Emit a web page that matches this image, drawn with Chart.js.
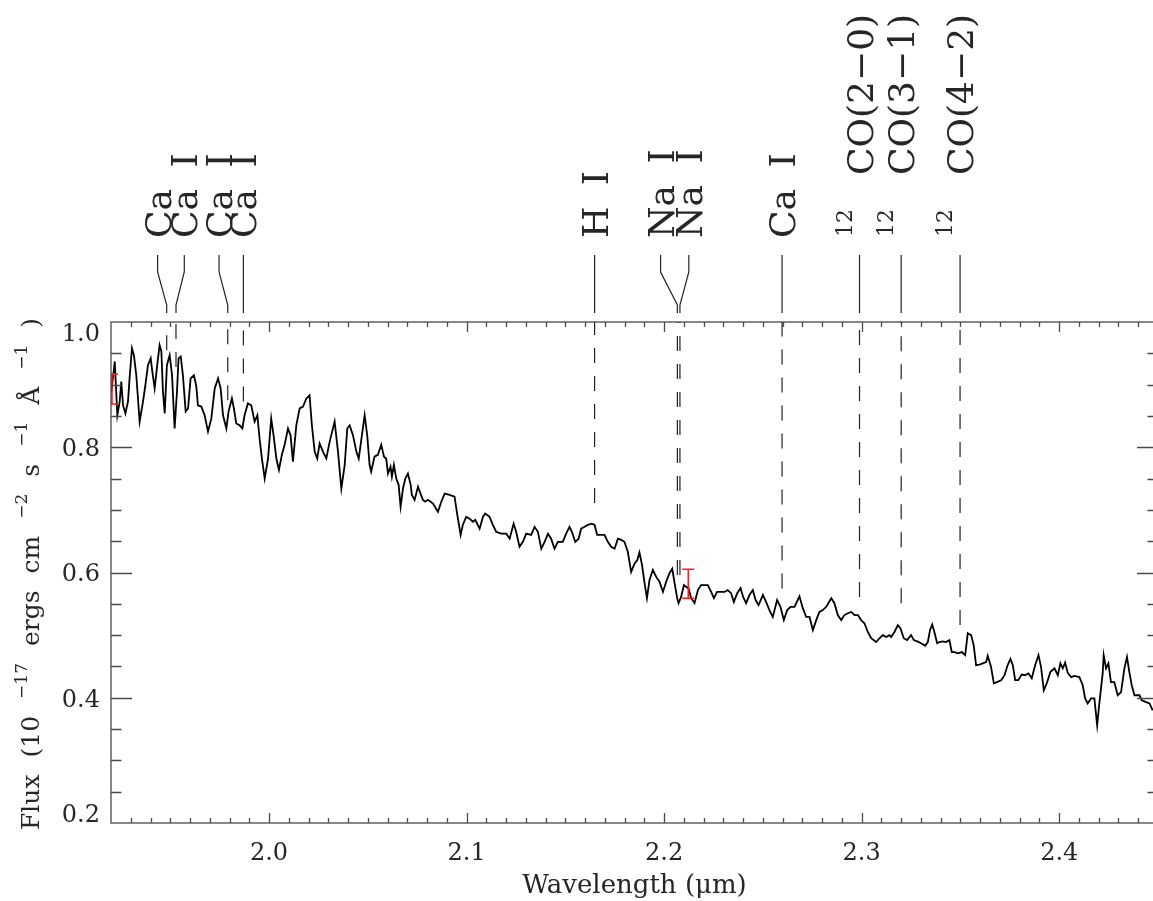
<!DOCTYPE html>
<html>
<head>
<meta charset="utf-8">
<script src="https://cdn.jsdelivr.net/npm/chart.js@4"></script>
<style>
  html, body { margin: 0; padding: 0; background: #fff; overflow: hidden; }
  #wrap { width: 1160px; height: 901px; }
</style>
</head>
<body>
<div id="wrap"><canvas id="chart"></canvas></div>
<script>
// K-band spectrum, wavelength in micron, flux in 1e-17 erg/cm2/s/A
const wavelength = [
  1.9202, 1.9219, 1.9232, 1.9244, 1.9252, 1.9261, 1.9273, 1.9286, 1.9294, 1.9306,
  1.9316, 1.9328, 1.9345, 1.9362, 1.9374, 1.9387, 1.9401, 1.9409, 1.9421, 1.9434,
  1.9446, 1.9455, 1.9463, 1.9472, 1.9483, 1.9497, 1.9509, 1.9522, 1.9534, 1.9542,
  1.9553, 1.9564, 1.9578, 1.9590, 1.9603, 1.9620, 1.9632, 1.9640, 1.9657, 1.9674,
  1.9691, 1.9708, 1.9725, 1.9742, 1.9755, 1.9767, 1.9784, 1.9795, 1.9812, 1.9822,
  1.9834, 1.9851, 1.9865, 1.9876, 1.9893, 1.9910, 1.9927, 1.9941, 1.9952, 1.9964,
  1.9978, 1.9995, 2.0011, 2.0023, 2.0037, 2.0050, 2.0065, 2.0079, 2.0096, 2.0109,
  2.0121, 2.0138, 2.0155, 2.0172, 2.0189, 2.0205, 2.0217, 2.0231, 2.0244, 2.0256,
  2.0273, 2.0290, 2.0307, 2.0332, 2.0349, 2.0366, 2.0383, 2.0396, 2.0408, 2.0425,
  2.0442, 2.0454, 2.0470, 2.0484, 2.0497, 2.0509,
  2.0517, 2.0534, 2.0551, 2.0568, 2.0582, 2.0593, 2.0602, 2.0615, 2.0622, 2.0632,
  2.0644, 2.0656, 2.0666, 2.0678, 2.0690, 2.0703, 2.0717, 2.0723, 2.0737, 2.0754,
  2.0767, 2.0779, 2.0791, 2.0804, 2.0818, 2.0830, 2.0855, 2.0872, 2.0889, 2.0914,
  2.0939, 2.0953, 2.0970, 2.0981, 2.0998, 2.1015, 2.1032, 2.1044, 2.1066, 2.1083,
  2.1094, 2.1116, 2.1133, 2.1150, 2.1175, 2.1201, 2.1218, 2.1238, 2.1251, 2.1268,
  2.1285, 2.1302, 2.1327, 2.1344, 2.1361, 2.1378, 2.1395, 2.1412, 2.1428, 2.1445,
  2.1462, 2.1487, 2.1504, 2.1521, 2.1533, 2.1550, 2.1567, 2.1580, 2.1597, 2.1614,
  2.1634, 2.1648, 2.1661, 2.1681, 2.1698, 2.1715, 2.1732, 2.1749, 2.1766, 2.1783,
  2.1799, 2.1816,
  2.1833, 2.1850, 2.1864, 2.1875, 2.1887, 2.1901, 2.1913, 2.1926, 2.1943, 2.1960,
  2.1977, 2.1994, 2.2010, 2.2027, 2.2041, 2.2053, 2.2066, 2.2073, 2.2086, 2.2100,
  2.2112, 2.2123, 2.2137, 2.2154, 2.2171, 2.2187, 2.2204, 2.2221, 2.2238, 2.2252,
  2.2268, 2.2289, 2.2306, 2.2322, 2.2339, 2.2353, 2.2370, 2.2387, 2.2400, 2.2415,
  2.2432, 2.2449, 2.2463, 2.2478, 2.2500, 2.2516, 2.2533, 2.2550, 2.2572, 2.2589,
  2.2606, 2.2623, 2.2640, 2.2660, 2.2685, 2.2702, 2.2719, 2.2736, 2.2753, 2.2770,
  2.2786, 2.2803, 2.2820, 2.2846, 2.2862, 2.2879, 2.2896, 2.2913, 2.2930, 2.2947,
  2.2964, 2.2981, 2.2997, 2.3014, 2.3031, 2.3048, 2.3073, 2.3090, 2.3107, 2.3124,
  2.3141,
  2.3149, 2.3166, 2.3183, 2.3196, 2.3213, 2.3230, 2.3250, 2.3264, 2.3281, 2.3301,
  2.3321, 2.3335, 2.3346, 2.3357, 2.3368, 2.3382, 2.3394, 2.3411, 2.3427, 2.3444,
  2.3456, 2.3470, 2.3487, 2.3507, 2.3524, 2.3537, 2.3554, 2.3567, 2.3579, 2.3596,
  2.3613, 2.3630, 2.3638, 2.3655, 2.3669, 2.3685, 2.3706, 2.3723, 2.3739, 2.3753,
  2.3765, 2.3777, 2.3793, 2.3810, 2.3827, 2.3844, 2.3861, 2.3878, 2.3895, 2.3908,
  2.3922, 2.3939, 2.3955, 2.3976, 2.3993, 2.4006, 2.4018, 2.4030, 2.4043, 2.4060,
  2.4077, 2.4102, 2.4119, 2.4131, 2.4144, 2.4161, 2.4178, 2.4192, 2.4203, 2.4220,
  2.4225, 2.4237, 2.4249, 2.4262, 2.4279, 2.4296, 2.4313, 2.4330, 2.4343, 2.4355,
  2.4367, 2.4381, 2.4406, 2.4418, 2.4440, 2.4457, 2.4473
];

const flux = [
  0.889, 0.937, 0.851, 0.873, 0.905, 0.867, 0.854, 0.873, 0.910, 0.958,
  0.947, 0.915, 0.841, 0.873, 0.899, 0.931, 0.942, 0.921, 0.894, 0.931,
  0.963, 0.953, 0.889, 0.854, 0.931, 0.947, 0.915, 0.830, 0.889, 0.942,
  0.945, 0.915, 0.857, 0.862, 0.910, 0.915, 0.897, 0.867, 0.865, 0.851,
  0.825, 0.846, 0.894, 0.910, 0.894, 0.851, 0.830, 0.857, 0.878, 0.862,
  0.838, 0.835, 0.830, 0.851, 0.870, 0.867, 0.841, 0.851, 0.814, 0.782,
  0.750, 0.782, 0.846, 0.819, 0.782, 0.764, 0.788, 0.804, 0.830, 0.819,
  0.777, 0.835, 0.862, 0.865, 0.878, 0.883, 0.835, 0.793, 0.782, 0.806,
  0.793, 0.782, 0.809, 0.841, 0.793, 0.734, 0.772, 0.830, 0.835, 0.819,
  0.793, 0.782, 0.819, 0.851, 0.819, 0.772,
  0.761, 0.785, 0.788, 0.804, 0.785, 0.782, 0.758, 0.769, 0.753, 0.772,
  0.750, 0.740, 0.705, 0.734, 0.750, 0.758, 0.740, 0.724, 0.716, 0.737,
  0.726, 0.716, 0.713, 0.716, 0.713, 0.710, 0.697, 0.713, 0.726, 0.724,
  0.721, 0.692, 0.660, 0.676, 0.689, 0.686, 0.681, 0.684, 0.670, 0.689,
  0.694, 0.689, 0.676, 0.665, 0.662, 0.662, 0.654, 0.678, 0.665, 0.641,
  0.649, 0.662, 0.660, 0.673, 0.665, 0.638, 0.649, 0.662, 0.654, 0.638,
  0.649, 0.649, 0.662, 0.673, 0.665, 0.649, 0.654, 0.670, 0.673, 0.676,
  0.678, 0.676, 0.660, 0.660, 0.660, 0.649, 0.641, 0.638, 0.654, 0.652,
  0.649, 0.633,
  0.601, 0.614, 0.620, 0.632, 0.614, 0.583, 0.559, 0.588, 0.604, 0.593,
  0.585, 0.569, 0.585, 0.599, 0.606, 0.583, 0.559, 0.551, 0.561, 0.580,
  0.577, 0.575, 0.559, 0.551, 0.572, 0.580, 0.580, 0.580, 0.569, 0.559,
  0.569, 0.569, 0.569, 0.572, 0.567, 0.553, 0.567, 0.575, 0.561, 0.551,
  0.564, 0.572, 0.556, 0.548, 0.564, 0.553, 0.540, 0.529, 0.556, 0.545,
  0.524, 0.540, 0.545, 0.545, 0.562, 0.543, 0.529, 0.529, 0.508, 0.524,
  0.537, 0.540, 0.545, 0.559, 0.551, 0.532, 0.524, 0.532, 0.535, 0.537,
  0.532, 0.532, 0.524, 0.519, 0.505, 0.495, 0.489, 0.495, 0.500, 0.497,
  0.500,
  0.497, 0.505, 0.516, 0.511, 0.495, 0.492, 0.500, 0.492, 0.490, 0.487,
  0.483, 0.489, 0.508, 0.517, 0.505, 0.487, 0.489, 0.490, 0.489, 0.492,
  0.473, 0.473, 0.471, 0.473, 0.468, 0.503, 0.500, 0.484, 0.452, 0.453,
  0.455, 0.457, 0.467, 0.449, 0.423, 0.425, 0.428, 0.436, 0.452, 0.462,
  0.452, 0.428, 0.428, 0.437, 0.436, 0.439, 0.431, 0.452, 0.468, 0.449,
  0.412, 0.425, 0.441, 0.447, 0.436, 0.455, 0.447, 0.456, 0.440, 0.433,
  0.435, 0.433, 0.420, 0.399, 0.391, 0.399, 0.399, 0.356, 0.391, 0.439,
  0.468, 0.447, 0.455, 0.425, 0.425, 0.404, 0.409, 0.447, 0.465, 0.441,
  0.420, 0.404, 0.404, 0.396, 0.393, 0.391, 0.380
];

// axis ranges and labelled ticks
const xRange = [1.92, 2.45];
const yRange = [0.2, 1.0];
const xTickValues = [2.0, 2.1, 2.2, 2.3, 2.4];
const yTickValues = [0.2, 0.4, 0.6, 0.8, 1.0];
const xMinorStep = 0.01;
const yMinorStep = 0.05;

// spectral line identifications
const lineNames = ['Ca', 'Ca I', 'Ca I', 'Ca I', 'H I', 'Na I', 'Na I', 'Ca I', 'CO(2\u22120)', 'CO(3\u22121)', 'CO(4\u22122)'];
const lineIsotope = ['', '', '', '', '', '', '', '', '12', '12', '12'];
const lineWave = [1.9482, 1.9529, 1.9791, 1.9870, 2.1648, 2.2067, 2.2080, 2.2597, 2.2989, 2.3200, 2.3498];
const labelWave = [1.9436, 1.9571, 1.9747, 1.9870, 2.1648, 2.1982, 2.2125, 2.2597, 2.2989, 2.3200, 2.3498];
const lineDepth = [0.955, 0.928, 0.875, 0.873, 0.711, 0.596, 0.596, 0.5745, 0.561, 0.551, 0.516];

// representative 1-sigma error bars
const errWave = [1.9205, 2.2122];
const errFlux = [0.893, 0.582];
const errSigma = [0.024, 0.023];

const SERIF = '"DejaVu Serif", "Liberation Serif", serif';
const INK = '#262626';
const FRAME = '#4a4a4a';

function minorValues(lo, hi, step) {
  const out = [];
  const n = Math.round((hi - lo) / step);
  for (let i = 0; i <= n; i++) out.push(+(lo + i * step).toFixed(4));
  return out;
}

const idlAxes = {
  id: 'idlAxes',
  afterDatasetsDraw(chart) {
    const { ctx, chartArea: a, scales: { x, y } } = chart;
    ctx.save();

    // error bars, clipped to the plot box
    ctx.save();
    ctx.beginPath();
    ctx.rect(a.left, a.top, a.right - a.left, a.bottom - a.top);
    ctx.clip();
    ctx.strokeStyle = '#ff1a1a';
    ctx.lineWidth = 1.5;
    errWave.forEach((w, i) => {
      const px = x.getPixelForValue(w);
      const hi = y.getPixelForValue(errFlux[i] + errSigma[i]);
      const lo = y.getPixelForValue(errFlux[i] - errSigma[i]);
      ctx.beginPath();
      ctx.moveTo(px, hi); ctx.lineTo(px, lo);
      ctx.moveTo(px - 6, hi); ctx.lineTo(px + 6, hi);
      ctx.moveTo(px - 6, lo); ctx.lineTo(px + 6, lo);
      ctx.stroke();
    });
    ctx.restore();

    // frame
    ctx.strokeStyle = FRAME;
    ctx.lineWidth = 1.3;
    ctx.strokeRect(a.left, a.top, a.right - a.left, a.bottom - a.top);

    // inward ticks on all four sides
    ctx.beginPath();
    minorValues(xRange[0], xRange[1], xMinorStep).forEach(v => {
      if (v <= xRange[0] || v >= xRange[1]) return;
      const major = xTickValues.some(t => Math.abs(t - v) < 1e-6);
      const len = major ? 10 : 5;
      const px = Math.round(x.getPixelForValue(v)) + 0.5;
      ctx.moveTo(px, a.bottom); ctx.lineTo(px, a.bottom - len);
      ctx.moveTo(px, a.top); ctx.lineTo(px, a.top + len);
    });
    minorValues(yRange[0], yRange[1], yMinorStep).forEach(v => {
      if (v <= yRange[0] || v >= yRange[1]) return;
      const major = yTickValues.some(t => Math.abs(t - v) < 1e-6);
      const len = major ? 21 : 10.5;
      const py = Math.round(y.getPixelForValue(v)) + 0.5;
      ctx.moveTo(a.left, py); ctx.lineTo(a.left + len, py);
      ctx.moveTo(a.right, py); ctx.lineTo(a.right - len, py);
    });
    ctx.stroke();

    // y tick labels, kept inside the vertical extent of the axis
    ctx.fillStyle = INK;
    ctx.font = '24px ' + SERIF;
    ctx.textAlign = 'right';
    ctx.textBaseline = 'alphabetic';
    const cap = 17.5;
    yTickValues.forEach(v => {
      let cy = y.getPixelForValue(v);
      cy = Math.min(Math.max(cy, a.top + cap / 2 + 1), a.bottom - cap / 2 - 1);
      ctx.fillText(v.toFixed(1), a.left - 11, cy + cap / 2);
    });

    // x axis title
    ctx.textAlign = 'center';
    ctx.font = '26px ' + SERIF;
    ctx.fillText('Wavelength (\u03bcm)', (a.left + a.right) / 2, 893);

    // y axis title, rotated, with raised exponents and wide Hershey-like gaps
    ctx.save();
    ctx.translate(39, a.bottom + 7);
    ctx.rotate(-Math.PI / 2);
    ctx.textAlign = 'left';
    const parts = [
      ['Flux', false], ['(10', false], ['\u221217', true], ['ergs', false], ['cm', false],
      ['\u22122', true], ['s', false], ['\u22121', true], ['\u00c5', false], ['\u22121', true], [')', false]
    ];
    let cx = 0;
    parts.forEach(([t, sup]) => {
      ctx.font = (sup ? '17px ' : '25px ') + SERIF;
      ctx.fillText(t, cx, sup ? -12 : 0);
      cx += ctx.measureText(t).width + 17;
    });
    ctx.restore();

    // line identifications: dashed markers, connectors and labels
    ctx.strokeStyle = '#222';
    ctx.lineWidth = 1.2;
    lineWave.forEach((w, i) => {
      const lx = x.getPixelForValue(w);
      const tx = x.getPixelForValue(labelWave[i]);
      const yEnd = y.getPixelForValue(lineDepth[i]);
      ctx.setLineDash([15, 13]);
      ctx.beginPath();
      ctx.moveTo(lx, yEnd); ctx.lineTo(lx, a.top);
      ctx.stroke();
      ctx.setLineDash([]);
      ctx.beginPath();
      ctx.moveTo(tx, a.top - 67); ctx.lineTo(tx, a.top - 50);
      ctx.lineTo(lx, a.top - 17); ctx.lineTo(lx, a.top - 9);
      ctx.stroke();

      ctx.save();
      ctx.fillStyle = INK;
      ctx.textAlign = 'left';
      ctx.textBaseline = 'alphabetic';
      if ('wordSpacing' in ctx) ctx.wordSpacing = '10px';
      if (lineIsotope[i]) {
        ctx.save();
        ctx.font = '22px ' + SERIF;
        ctx.translate(tx - 16 + 8, a.top - 85);
        ctx.rotate(-Math.PI / 2);
        ctx.fillText(lineIsotope[i], 0, 0);
        ctx.restore();
        ctx.font = '36px ' + SERIF;
        ctx.translate(tx + 13, a.top - 147);
      } else {
        ctx.font = '36px ' + SERIF;
        ctx.translate(tx + 13, a.top - 84);
      }
      ctx.rotate(-Math.PI / 2);
      ctx.fillText(lineNames[i], 0, 0);
      ctx.restore();
    });

    ctx.restore();
  }
};

new Chart(document.getElementById('chart'), {
  type: 'line',
  data: {
    datasets: [{
      data: wavelength.map((w, i) => ({ x: w, y: flux[i] })),
      borderColor: '#000',
      borderWidth: 1.8,
      pointRadius: 0,
      tension: 0
    }]
  },
  options: {
    responsive: true,
    maintainAspectRatio: false,
    animation: false,
    events: [],
    layout: { padding: { top: 322, right: 2, left: 0, bottom: 0 } },
    plugins: { legend: { display: false }, tooltip: { enabled: false } },
    scales: {
      x: {
        type: 'linear',
        min: xRange[0],
        max: xRange[1],
        afterBuildTicks: s => { s.ticks = xTickValues.map(v => ({ value: v })); },
        afterFit: s => { s.height = 78; },
        grid: { display: false, drawTicks: false },
        border: { display: false },
        ticks: {
          padding: 16,
          color: INK,
          font: { family: SERIF, size: 24 },
          maxRotation: 0,
          callback: v => v.toFixed(1)
        }
      },
      y: {
        type: 'linear',
        min: yRange[0],
        max: yRange[1],
        afterBuildTicks: s => { s.ticks = yTickValues.map(v => ({ value: v })); },
        afterFit: s => { s.width = 111; },
        grid: { display: false, drawTicks: false },
        border: { display: false },
        ticks: { display: false }
      }
    }
  },
  plugins: [idlAxes]
});
</script>
</body>
</html>
